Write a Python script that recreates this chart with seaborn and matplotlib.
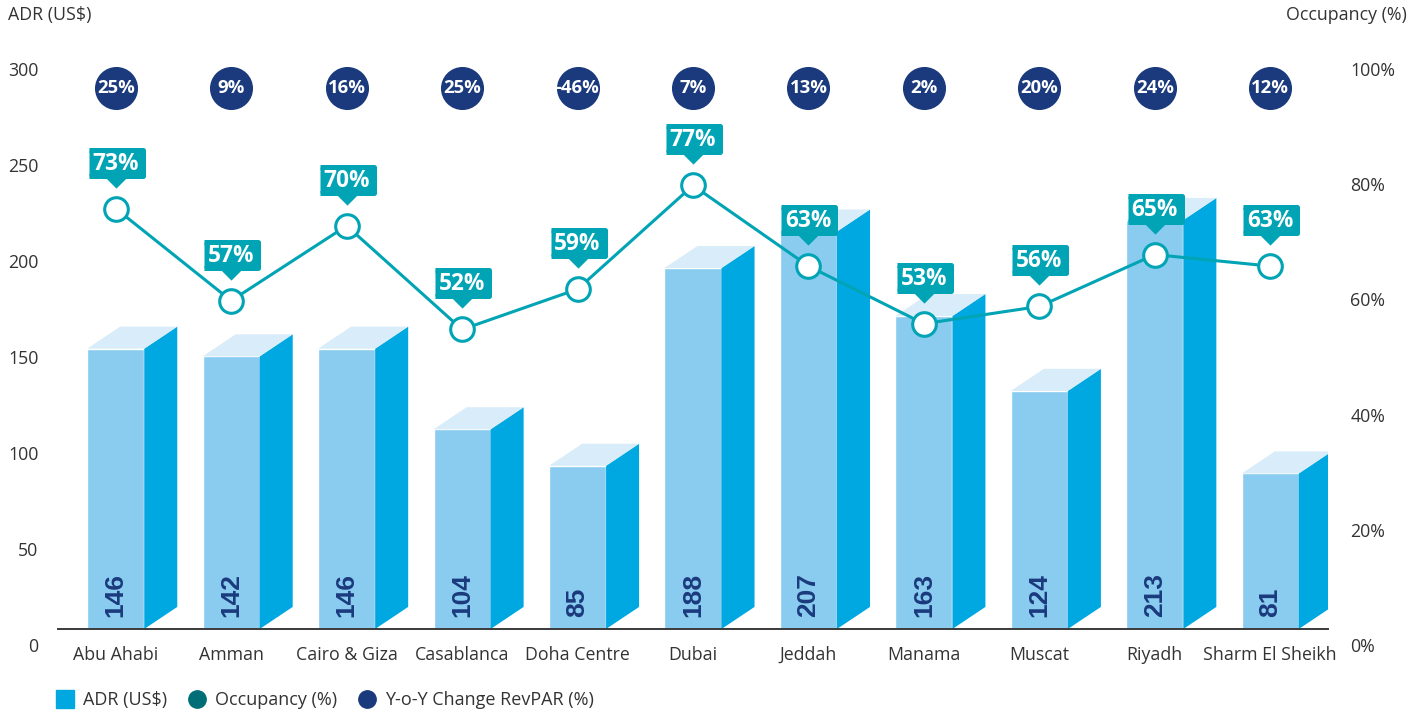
import numpy as np
import pandas as pd
import seaborn as sns
import matplotlib.pyplot as plt
from matplotlib.patches import Polygon
from matplotlib.lines import Line2D
from matplotlib.markers import MarkerStyle
from matplotlib.transforms import offset_copy, ScaledTranslation

# chart data
cities = ["Abu Ahabi", "Amman", "Cairo & Giza", "Casablanca", "Doha Centre", "Dubai",
          "Jeddah", "Manama", "Muscat", "Riyadh", "Sharm El Sheikh"]
adr = [146, 142, 146, 104, 85, 188, 207, 163, 124, 213, 81]
occupancy = [73, 57, 70, 52, 59, 77, 63, 53, 56, 65, 63]
revpar_change = [25, 9, 16, 25, -46, 7, 13, 2, 20, 24, 12]
adr_ticks = [0, 50, 100, 150, 200, 250, 300]
occ_ticks = [0, 20, 40, 60, 80, 100]

FRONT = "#89CCF0"
SIDE = "#00A8E2"
TOP = "#D8ECF9"
TEAL = "#00A4B4"
NAVY = "#1B3A7D"
DARK_TEAL = "#006E76"
TXT = "#333333"

sns.set_style("white")
plt.rcParams["font.family"] = ["Open Sans", "DejaVu Sans"]

W, H = 1424, 716
fig = plt.figure(figsize=(W / 100, H / 100), dpi=100)
ax = fig.add_axes([58 / W, 87 / H, 1270 / W, 576 / H])

df = pd.DataFrame({"city": cities, "adr": adr})
sns.barplot(data=df, x="city", y="adr", color=FRONT, saturation=1, width=0.494,
            errorbar=None, ax=ax, zorder=2)

# fake 3D: side and top faces
dx, dy = 0.286, 11.5
for p in ax.patches:
    x0, w, h = p.get_x(), p.get_width(), p.get_height()
    x1 = x0 + w
    ax.add_patch(Polygon([(x1, 0), (x1 + dx, dy), (x1 + dx, h + dy), (x1, h)],
                         closed=True, facecolor=SIDE, edgecolor="none", zorder=2))
    ax.add_patch(Polygon([(x0, h), (x0 + dx, h + dy), (x1 + dx, h + dy), (x1, h)],
                         closed=True, facecolor=TOP, edgecolor="none", zorder=2))

xpos = np.arange(len(cities))
for i, v in enumerate(adr):
    ax.text(i, 0, str(v), rotation=90, ha="center", va="bottom", color=NAVY,
            fontsize=19, fontweight="bold", family="Liberation Sans",
            transform=offset_copy(ax.transData, fig=fig, y=12, units="dots"), zorder=4)

ax.set_xlim(-0.5, 10.5)
ax.set_ylim(0, 300)
ax.set_yticks(adr_ticks)
ax.set_xlabel("")
ax.set_ylabel("")
for s in ["top", "right", "left"]:
    ax.spines[s].set_visible(False)
ax.spines["bottom"].set_color("#3a3a3a")
ax.spines["bottom"].set_linewidth(1.4)
ax.tick_params(axis="both", length=0, labelsize=12.8, labelcolor=TXT)
ax.tick_params(axis="x", pad=12)
ax.tick_params(axis="y", pad=14)

# occupancy on twin axis
ax2 = ax.twinx()
ax2.set_ylim(0, 100)
ax2.set_yticks(occ_ticks)
ax2.set_yticklabels([f"{t}%" for t in occ_ticks])
for s in ax2.spines.values():
    s.set_visible(False)
ax2.tick_params(axis="y", length=0, labelsize=12.8, labelcolor=TXT, pad=16)
ax2.grid(False)

sns.lineplot(x=xpos, y=occupancy, ax=ax2, color=TEAL, lw=2.2, marker="o",
             markersize=17, markerfacecolor="white", markeredgecolor=TEAL,
             markeredgewidth=2.2, zorder=3)

box = MarkerStyle([(-1, -0.47), (1, -0.47), (1, 0.47), (-1, 0.47)], joinstyle="round")
tri = MarkerStyle([(-1, 0), (1, 0), (0, -1)])
box_tr = offset_copy(ax2.transData, fig=fig, y=46, units="dots")
tri_tr = offset_copy(ax2.transData, fig=fig, y=32, units="dots")
txt_tr = offset_copy(ax2.transData, fig=fig, y=45, units="dots")
for i, v in enumerate(occupancy):
    ax2.plot([i], [v], marker=box, markersize=39.5, color=TEAL, markeredgewidth=3.6,
             transform=box_tr, zorder=5, clip_on=False)
    ax2.plot([i], [v], marker=tri, markersize=16, color=TEAL, markeredgewidth=0,
             transform=tri_tr, zorder=5, clip_on=False)
    ax2.text(i, v, f"{v}%", transform=txt_tr, ha="center", va="center", color="white",
             fontsize=16.3, fontweight="bold", zorder=6)

# RevPAR change bubbles
ax2.scatter(xpos, [94] * len(xpos), s=31 ** 2, color=NAVY, zorder=5, clip_on=False,
            linewidths=0)
for i, v in enumerate(revpar_change):
    ax2.text(i, 94, f"{v}%", ha="center", va="center", color="white", fontsize=13.3,
             fontweight="bold", zorder=6)

# shift y tick labels down like the original
shift = ScaledTranslation(0, -16 / 100, fig.dpi_scale_trans)
for t in ax.get_yticklabels() + ax2.get_yticklabels():
    t.set_transform(t.get_transform() + shift)

fig.text(8 / W, 1 - 15 / H, "ADR (US$)", ha="left", va="center", fontsize=12.8, color=TXT)
fig.text(1407 / W, 1 - 15 / H, "Occupancy (%)", ha="right", va="center", fontsize=12.8,
         color=TXT)

handles = [
    Line2D([], [], ls="", marker="s", markersize=12.5, color=SIDE),
    Line2D([], [], ls="", marker="o", markersize=12.5, color=DARK_TEAL),
    Line2D([], [], ls="", marker="o", markersize=12.5, color=NAVY),
]
fig.legend(handles, ["ADR (US$)", "Occupancy (%)", "Y-o-Y Change RevPAR (%)"],
           loc="center left", bbox_to_anchor=(57 / W, 1 - 700 / H), ncol=3,
           frameon=False, fontsize=13, handlelength=0.9, handletextpad=0.55,
           columnspacing=1.2, borderpad=0, borderaxespad=0, labelcolor=TXT)

fig.savefig("out.png", dpi=100)
